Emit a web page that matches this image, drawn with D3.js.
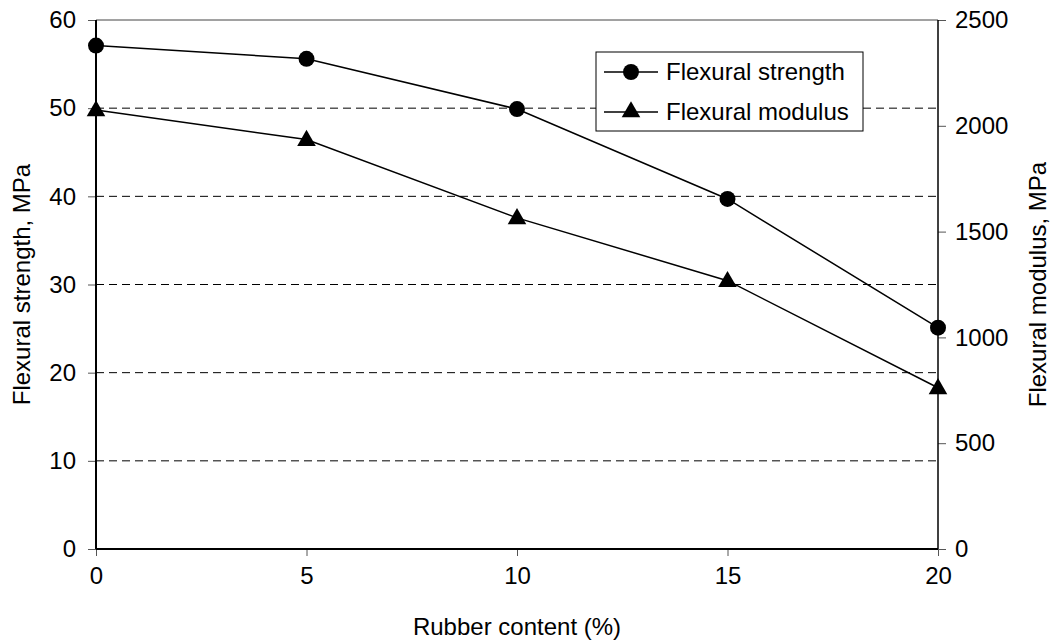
<!DOCTYPE html>
<html>
<head>
<meta charset="utf-8">
<title>Flexural strength and modulus</title>
<script src="https://d3js.org/d3.v7.min.js"></script>
<style>
  body { margin: 0; background: #fff; }
  text { font-family: "Liberation Sans", Arial, sans-serif; fill: #000; }
</style>
</head>
<body>
<div id="chart"></div>
<script>
// dados
const rubber = [0, 5, 10, 15, 20]
const strength = [57.1, 55.6, 49.9, 39.7, 25.1]
const modulus = [2075, 1935, 1565, 1268, 762]
const xTicks = [0, 5, 10, 15, 20]
const yLeftTicks = [0, 10, 20, 30, 40, 50, 60]
const yRightTicks = [0, 500, 1000, 1500, 2000, 2500]

const largura = 1052, altura = 644
const margem = { esquerda: 96, direita: 114, topo: 20, base: 95 }
const w = largura - margem.esquerda - margem.direita
const h = altura - margem.topo - margem.base

const svg = d3.select('#chart').append('svg')
  .attr('width', largura).attr('height', altura)

const g = svg.append('g')
  .attr('transform', `translate(${margem.esquerda},${margem.topo})`)

const x = d3.scaleLinear().domain([0, 20]).range([0, w])
const yL = d3.scaleLinear().domain([0, 60]).range([h, 0])
const yR = d3.scaleLinear().domain([0, 2500]).range([h, 0])

// grade tracejada
g.append('g').selectAll('line')
  .data(yLeftTicks.filter(d => d > 0 && d < 60))
  .join('line')
    .attr('x1', 0).attr('x2', w)
    .attr('y1', d => yL(d)).attr('y2', d => yL(d))
    .attr('stroke', '#000').attr('stroke-width', 1)
    .attr('stroke-dasharray', '8,5')

// borda superior
g.append('line')
  .attr('x1', 0).attr('x2', w).attr('y1', 0).attr('y2', 0)
  .attr('stroke', '#444').attr('stroke-width', 1)

const fonte = 24

const eixoX = g.append('g')
  .attr('transform', `translate(0,${h})`)
  .call(d3.axisBottom(x).tickValues(xTicks).tickSize(7).tickPadding(11))
const eixoL = g.append('g')
  .call(d3.axisLeft(yL).tickValues(yLeftTicks).tickSize(8).tickPadding(12))
const eixoR = g.append('g')
  .attr('transform', `translate(${w},0)`)
  .call(d3.axisRight(yR).tickValues(yRightTicks).tickFormat(d3.format('d')).tickSize(8).tickPadding(9))

for (const e of [eixoX, eixoL, eixoR]) {
  e.attr('font-size', fonte).attr('font-family', '"Liberation Sans", Arial, sans-serif')
  e.select('.domain').remove()
  e.selectAll('.tick line').attr('stroke', '#555').attr('stroke-width', 1)
  e.selectAll('text').attr('font-size', fonte)
}

// linhas dos eixos
g.append('line').attr('x1', 0).attr('x2', 0).attr('y1', 0).attr('y2', h)
  .attr('stroke', '#000').attr('stroke-width', 2)
g.append('line').attr('x1', 0).attr('x2', w).attr('y1', h).attr('y2', h)
  .attr('stroke', '#000').attr('stroke-width', 2)
g.append('line').attr('x1', w).attr('x2', w).attr('y1', 0).attr('y2', h)
  .attr('stroke', '#000').attr('stroke-width', 1.5)

// séries
const linhaS = d3.line().x((d, i) => x(rubber[i])).y(d => yL(d))
const linhaM = d3.line().x((d, i) => x(rubber[i])).y(d => yR(d))

g.append('path').attr('d', linhaS(strength))
  .attr('fill', 'none').attr('stroke', '#000').attr('stroke-width', 1.5)
g.append('path').attr('d', linhaM(modulus))
  .attr('fill', 'none').attr('stroke', '#000').attr('stroke-width', 1.5)

const circulo = d3.symbol().type(d3.symbolCircle).size(200)
const triangulo = d3.symbol().type(d3.symbolTriangle).size(150)

g.append('g').selectAll('path')
  .data(strength).join('path')
    .attr('d', circulo)
    .attr('transform', (d, i) => `translate(${x(rubber[i])},${yL(d)})`)
    .attr('fill', '#000')
g.append('g').selectAll('path')
  .data(modulus).join('path')
    .attr('d', triangulo)
    .attr('transform', (d, i) => `translate(${x(rubber[i])},${yR(d) + 1})`)
    .attr('fill', '#000')

// títulos dos eixos
svg.append('text')
  .attr('x', margem.esquerda + w / 2).attr('y', 635)
  .attr('text-anchor', 'middle').attr('font-size', fonte)
  .text('Rubber content (%)')
svg.append('text')
  .attr('transform', `translate(30,${margem.topo + h / 2}) rotate(-90)`)
  .attr('text-anchor', 'middle').attr('font-size', fonte)
  .text('Flexural strength, MPa')
svg.append('text')
  .attr('transform', `translate(1046,${margem.topo + h / 2}) rotate(-90)`)
  .attr('text-anchor', 'middle').attr('font-size', fonte)
  .text('Flexural modulus, MPa')

// legenda
const leg = svg.append('g').attr('transform', 'translate(596,52)')
leg.append('rect').attr('width', 267).attr('height', 79)
  .attr('fill', '#fff').attr('stroke', '#000').attr('stroke-width', 1)
const itens = [
  { nome: 'Flexural strength', simbolo: circulo, y: 20 },
  { nome: 'Flexural modulus', simbolo: triangulo, y: 60 }
]
itens.forEach(it => {
  leg.append('line').attr('x1', 8).attr('x2', 62).attr('y1', it.y).attr('y2', it.y)
    .attr('stroke', '#000').attr('stroke-width', 1.5)
  leg.append('path').attr('d', it.simbolo())
    .attr('transform', `translate(35,${it.y})`).attr('fill', '#000')
  leg.append('text').attr('x', 70).attr('y', it.y + 8)
    .attr('font-size', fonte).text(it.nome)
})
</script>
</body>
</html>
